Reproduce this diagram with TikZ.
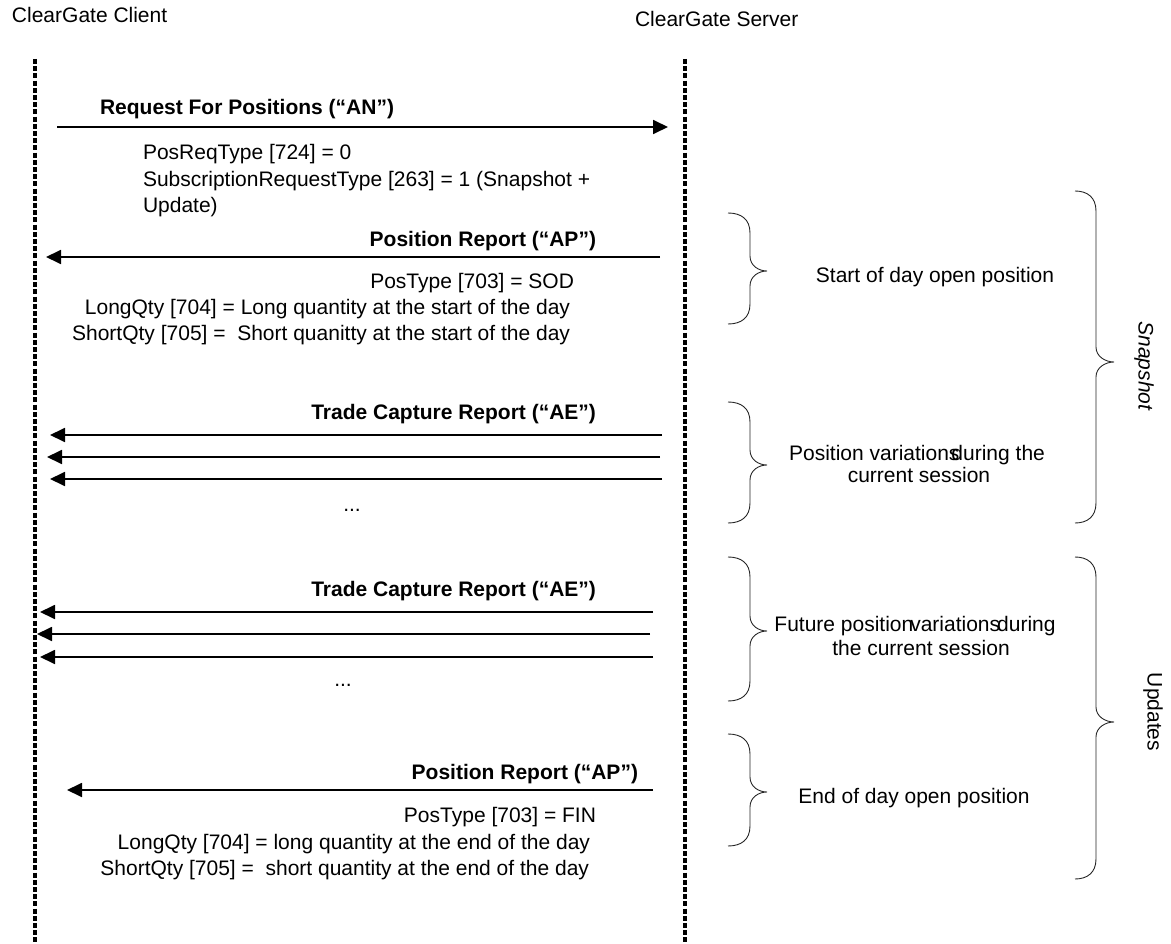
\documentclass[tikz,border=0pt]{standalone}
\usepackage{fontspec}
\setmainfont{Liberation Sans}
\usetikzlibrary{arrows.meta}
\newcommand{\cgbrace}[6]{%
 \draw[bracestyle] (#1,#4) .. controls ({#2-9},#4) and (#2,{#4+6}) .. (#2,{#4+20})
 -- (#2,{#5-15}) .. controls (#2,{#5-5}) and ({#3-8},#5) .. (#3,#5)
 .. controls ({#3-8},#5) and (#2,{#5+5}) .. (#2,{#5+15})
 -- (#2,{#6-20}) .. controls (#2,{#6-6}) and ({#2-9},#6) .. (#1,#6);}
\begin{document}
\begin{tikzpicture}[x=1pt,y=-1pt,
  every node/.style={inner sep=0pt,outer sep=0pt,font=\fontsize{21}{26}\selectfont},
  lbl/.style={font=\fontsize{21}{26}\selectfont\bfseries},
  msg/.style={line width=1.8pt,-{Triangle[length=15pt,width=14pt]}},
  life/.style={line width=3.6pt,dash pattern=on 5pt off 2.2pt},
  bracestyle/.style={line width=0.9pt,draw=black!85},
  vert/.style={rotate=-90,anchor=center}]
\useasboundingbox (0,0) rectangle (1171,944);
% headers
\node[anchor=base west] (client) at (12,23) {ClearGate Client};
\node[anchor=base west] (server) at (635,27) {ClearGate Server};
% lifelines
\coordinate (cTop) at (35,59);
\coordinate (cBot) at (35,944);
\coordinate (sTop) at (685,59);
\coordinate (sBot) at (685,944);
\draw[life] (cTop) -- (cBot);
\draw[life] (sTop) -- (sBot);
% message 1
\coordinate (m1s) at (57,127);
\coordinate (m1e) at (668,127);
\draw[msg] (m1s) -- (m1e);
\node[lbl,anchor=base west] (req) at (100,115) {Request For Positions (“AN”)};
\node[anchor=base west] (r1) at (143,160) {PosReqType [724] = 0};
\node[anchor=base west] (r2) at (143,187) {SubscriptionRequestType [263] = 1 (Snapshot +};
\node[anchor=base west] (r3) at (143,213) {Update)};
% message 2
\coordinate (m2s) at (660,257);
\coordinate (m2e) at (46,257);
\draw[msg] (m2s) -- (m2e);
\node[lbl,anchor=base east] (pr1) at (596,247) {Position Report (“AP”)};
\node[anchor=base east] (p1) at (574,289) {PosType [703] = SOD};
\node[anchor=base east] (p2) at (570,315) {LongQty [704] = Long quantity at the start of the day};
\node[anchor=base east] (p3) at (570,341) {ShortQty [705] =\ \ Short quanitty at the start of the day};
% trade capture group 1
\node[lbl,anchor=base east] (tc1) at (596,419) {Trade Capture Report (“AE”)};
\coordinate (t1s) at (662,435); \coordinate (t1e) at (50,435);
\coordinate (t2s) at (660,457); \coordinate (t2e) at (47,457);
\coordinate (t3s) at (662,479); \coordinate (t3e) at (50,479);
\draw[msg] (t1s) -- (t1e);
\draw[msg] (t2s) -- (t2e);
\draw[msg] (t3s) -- (t3e);
\node[anchor=base] (dots1) at (352,511) {...};
% trade capture group 2
\node[lbl,anchor=base east] (tc2) at (596,596) {Trade Capture Report (“AE”)};
\coordinate (u1s) at (653,612); \coordinate (u1e) at (40,612);
\coordinate (u2s) at (650,634); \coordinate (u2e) at (37,634);
\coordinate (u3s) at (653,657); \coordinate (u3e) at (40,657);
\draw[msg] (u1s) -- (u1e);
\draw[msg] (u2s) -- (u2e);
\draw[msg] (u3s) -- (u3e);
\node[anchor=base] (dots2) at (343,686) {...};
% final position report
\coordinate (m5s) at (653,790);
\coordinate (m5e) at (67,790);
\draw[msg] (m5s) -- (m5e);
\node[lbl,anchor=base east] (pr2) at (638,779) {Position Report (“AP”)};
\node[anchor=base east] (f1) at (596,822) {PosType [703] = FIN};
\node[anchor=base east] (f2) at (590,849) {LongQty [704] = long quantity at the end of the day};
\node[anchor=base east] (f3) at (589,875) {ShortQty [705] =\ \ short quantity at the end of the day};
% small braces
\cgbrace{728}{750}{767}{213}{271}{324}
\cgbrace{728}{750}{767}{402}{465}{523}
\cgbrace{728}{750}{767}{557}{631}{701}
\cgbrace{728}{750}{767}{734}{792}{846}
% big braces
\cgbrace{1075}{1096}{1114}{191}{362}{523}
\cgbrace{1075}{1096}{1114}{557}{722}{879}
% brace texts
\node[anchor=base] (b1) at (935,283) {Start of day open position};
\node[anchor=base] (b2a) at (917,460) {Position variations\kern-8pt during the};
\node[anchor=base] (b2b) at (919,482) {current session};
\node[anchor=base] (b3a) at (915,631) {Future position\kern-3pt variations\kern-3pt during};
\node[anchor=base] (b3b) at (921,655) {the current session};
\node[anchor=base] (b4) at (914,803) {End of day open position};
\node[vert] (snap) at (1144,366) {\itshape Snapshot};
\node[vert] (upd) at (1153,712) {Updates};
\end{tikzpicture}
\end{document}
